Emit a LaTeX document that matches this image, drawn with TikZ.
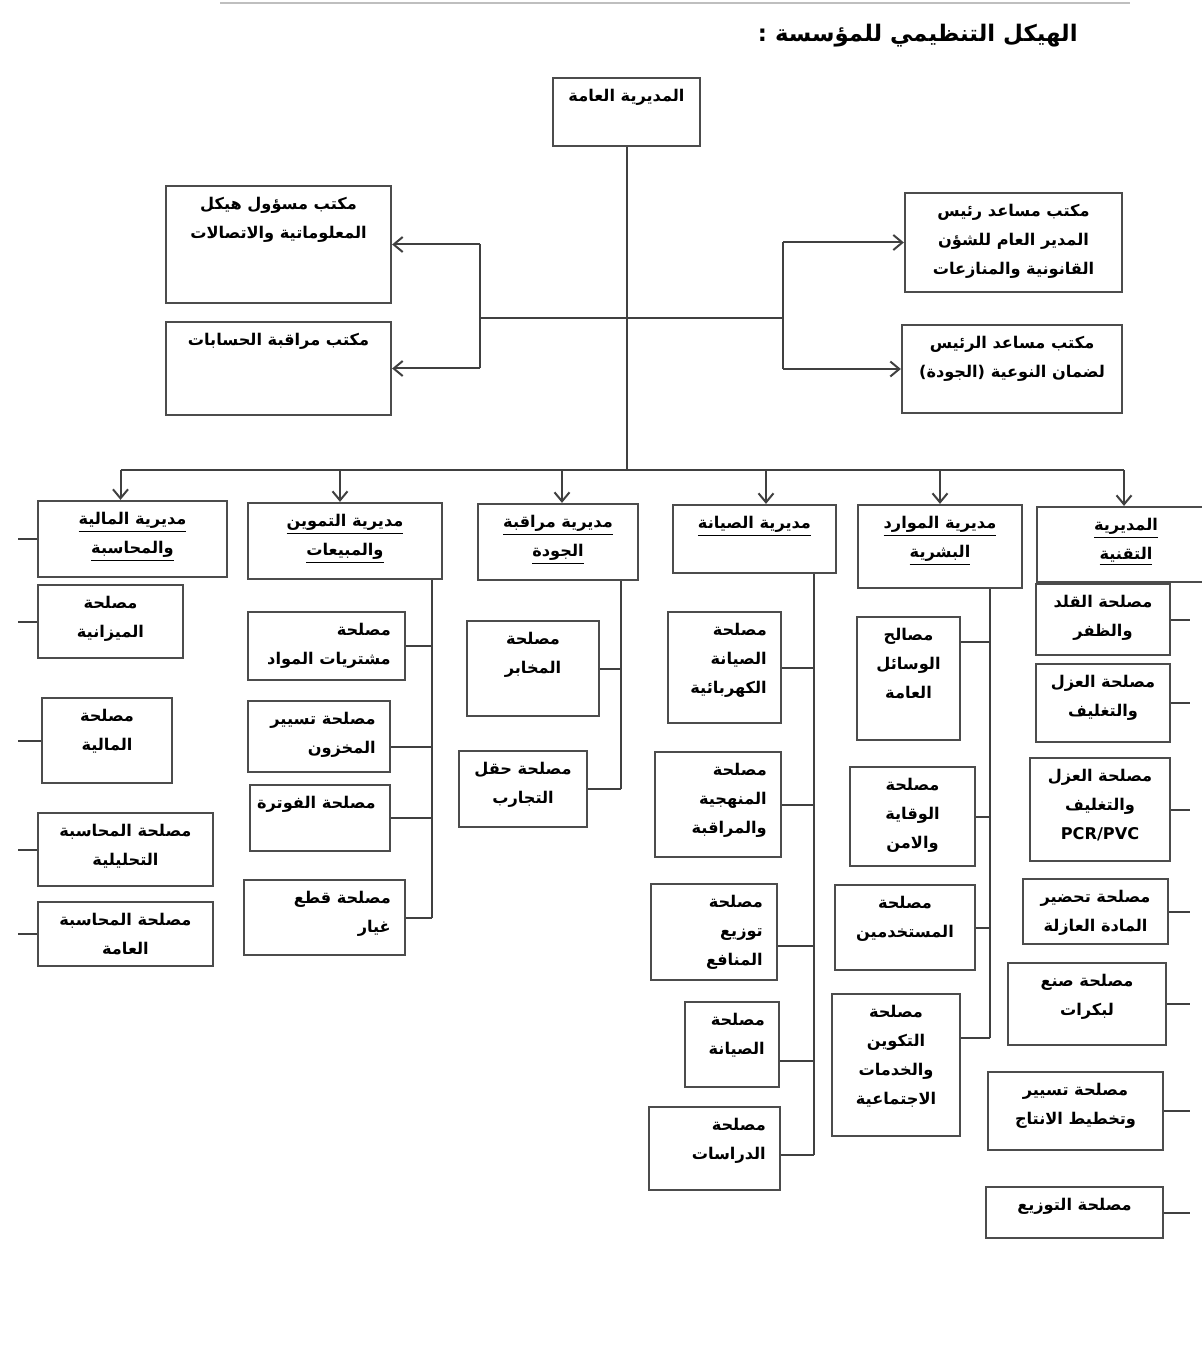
\documentclass[tikz,border=0pt]{standalone}
\usepackage{fontspec}
\setmainfont{DejaVu Sans}
\newfontfamily\arabicfont[Script=Arabic]{DejaVu Sans}
\TeXXeTstate=1
\usetikzlibrary{arrows.meta}
\newcommand{\ar}[1]{{\arabicfont\bfseries\beginR #1\endR}}
\newcommand{\arul}[1]{\underline{\ar{#1}}}
% box from (x1,y1) to (x2,y2), label at its top
\newcommand{\orgbox}[7][north]{%
  \node[box,minimum width={(#5-#3)*0.2mm},minimum height={(#6-#4)*0.2mm}]
    (#2) at ({(#3+#5)/2},{(#4+#6)/2}) {};
  \node[lbl,lbl #1] (#2-t) at (#2.#1) {#7};}
\tikzset{
  box/.style={draw=black!70,line width=0.45mm,fill=white,inner sep=0pt},
  lbl/.style={inner sep=0pt,align=center,font=\fontsize{9.2}{16.5}\selectfont},
  lbl north/.style={anchor=north,yshift=-2.4mm},
  lbl north east/.style={anchor=north east,yshift=-2.4mm,xshift=-3mm,align=right},
  link/.style={draw=black!75,line width=0.4mm},
  title/.style={inner sep=0pt,font=\fontsize{13}{18}\selectfont}
}
\begin{document}
\begin{tikzpicture}[x=0.2mm,y=-0.2mm,>={Straight Barb[length=1.8mm,width=3mm]}]
  \useasboundingbox (0,0) rectangle (1201,1359);
  \draw[black!25,line width=0.4mm] (220,3) -- (1130,3);
  \node[title,anchor=east] (title) at (1078,36) {\ar{الهيكل التنظيمي للمؤسسة :}};

  % general direction and offices
  \orgbox{gm}{553}{78}{700}{146}{\ar{المديرية العامة}}
  \orgbox{ofA}{166}{186}{391}{303}{\ar{مكتب مسؤول هيكل}\\\ar{المعلوماتية والاتصالات}}
  \orgbox{ofB}{166}{322}{391}{415}{\ar{مكتب مراقبة الحسابات}}
  \orgbox{ofC}{905}{193}{1122}{292}{\ar{مكتب مساعد رئيس}\\\ar{المدير العام للشؤن}\\\ar{القانونية والمنازعات}}
  \orgbox{ofD}{902}{325}{1122}{413}{\ar{مكتب مساعد الرئيس}\\\ar{لضمان النوعية (الجودة)}}

  % directorates
  \orgbox{dFin}{38}{501}{227}{577}{\arul{مديرية المالية}\\\arul{والمحاسبة}}
  \orgbox{dSup}{248}{503}{442}{579}{\arul{مديرية التموين}\\\arul{والمبيعات}}
  \orgbox{dQua}{478}{504}{638}{580}{\arul{مديرية مراقبة}\\\arul{الجودة}}
  \orgbox{dMnt}{673}{505}{836}{573}{\arul{مديرية الصيانة}}
  \orgbox{dHR}{858}{505}{1022}{588}{\arul{مديرية الموارد}\\\arul{البشرية}}
  \orgbox{dTec}{1037}{507}{1215}{582}{\arul{المديرية}\\\arul{التقنية}}

  % finance
  \orgbox{sBud}{38}{585}{183}{658}{\ar{مصلحة}\\\ar{الميزانية}}
  \orgbox{sFin}{42}{698}{172}{783}{\ar{مصلحة}\\\ar{المالية}}
  \orgbox{sAna}{38}{813}{213}{886}{\ar{مصلحة المحاسبة}\\\ar{التحليلية}}
  \orgbox{sGen}{38}{902}{213}{966}{\ar{مصلحة المحاسبة}\\\ar{العامة}}

  % supply and sales
  \orgbox[north east]{sPur}{248}{612}{405}{680}{\ar{مصلحة}\\\ar{مشتريات المواد}}
  \orgbox[north east]{sStk}{248}{701}{390}{772}{\ar{مصلحة تسيير}\\\ar{المخزون}}
  \orgbox[north east]{sBil}{250}{785}{390}{851}{\ar{مصلحة الفوترة}}
  \orgbox[north east]{sSpr}{244}{880}{405}{955}{\ar{مصلحة قطع}\\\ar{غيار}}

  % quality
  \orgbox{sLab}{467}{621}{599}{716}{\ar{مصلحة}\\\ar{المخابر}}
  \orgbox{sTst}{459}{751}{587}{827}{\ar{مصلحة حقل}\\\ar{التجارب}}

  % maintenance
  \orgbox[north east]{sElc}{668}{612}{781}{723}{\ar{مصلحة}\\\ar{الصيانة}\\\ar{الكهربائية}}
  \orgbox[north east]{sMet}{655}{752}{781}{857}{\ar{مصلحة}\\\ar{المنهجية}\\\ar{والمراقبة}}
  \orgbox[north east]{sUtl}{651}{884}{777}{980}{\ar{مصلحة}\\\ar{توزيع}\\\ar{المنافع}}
  \orgbox[north east]{sMnt}{685}{1002}{779}{1087}{\ar{مصلحة}\\\ar{الصيانة}}
  \orgbox[north east]{sStu}{649}{1107}{780}{1190}{\ar{مصلحة}\\\ar{الدراسات}}

  % human resources
  \orgbox{sGnr}{857}{617}{960}{740}{\ar{مصالح}\\\ar{الوسائل}\\\ar{العامة}}
  \orgbox{sSaf}{850}{767}{975}{866}{\ar{مصلحة}\\\ar{الوقاية}\\\ar{والامن}}
  \orgbox{sPer}{835}{885}{975}{970}{\ar{مصلحة}\\\ar{المستخدمين}}
  \orgbox{sTrn}{832}{994}{960}{1136}{\ar{مصلحة}\\\ar{التكوين}\\\ar{والخدمات}\\\ar{الاجتماعية}}

  % technical
  \orgbox{sDrw}{1036}{584}{1170}{655}{\ar{مصلحة القلد}\\\ar{والظفر}}
  \orgbox{sIns}{1036}{664}{1170}{742}{\ar{مصلحة العزل}\\\ar{والتغليف}}
  \orgbox{sPvc}{1030}{758}{1170}{861}{\ar{مصلحة العزل}\\\ar{والتغليف}\\{\bfseries PCR/PVC}}
  \orgbox{sPrp}{1023}{879}{1168}{944}{\ar{مصلحة تحضير}\\\ar{المادة العازلة}}
  \orgbox{sRel}{1008}{963}{1166}{1045}{\ar{مصلحة صنع}\\\ar{لبكرات}}
  \orgbox{sPln}{988}{1072}{1163}{1150}{\ar{مصلحة تسيير}\\\ar{وتخطيط الانتاج}}
  \orgbox{sDst}{986}{1187}{1163}{1238}{\ar{مصلحة التوزيع}}

  % connectors
  \coordinate (bus) at (626,470);
  \coordinate (lx) at (480,318);
  \coordinate (rx) at (783,318);
  \coordinate (edgeL) at (18,0);
  \coordinate (edgeR) at (1190,0);
  \coordinate (c2) at (432,0);
  \coordinate (c3) at (621,0);
  \coordinate (c4) at (814,0);
  \coordinate (c5) at (990,0);

  \draw[link] (gm.south) -- (gm.south |- bus);
  \draw[link] (lx) -- (rx);
  \draw[link] (ofA.east -| lx) -- (ofB.east -| lx);
  \draw[link] (ofC.west -| rx) -- (ofD.west -| rx);
  \draw[link,->] (ofA.east -| lx) -- (ofA.east);
  \draw[link,->] (ofB.east -| lx) -- (ofB.east);
  \draw[link,->] (ofC.west -| rx) -- (ofC.west);
  \draw[link,->] (ofD.west -| rx) -- (ofD.west);

  \draw[link] ([xshift=-2.4mm]dFin.north |- bus) -- ([xshift=-0.4mm]dTec.north |- bus);
  \foreach \d/\dx in {dFin/-2.4,dSup/-1,dQua/0.8,dMnt/2.3,dHR/0,dTec/-0.4}
    \draw[link,->] ([xshift=\dx mm]\d.north |- bus) -- ([xshift=\dx mm]\d.north);

  \foreach \s in {dFin,sBud,sFin,sAna,sGen}
    \draw[link] (\s.west -| edgeL) -- (\s.west);

  \draw[link] (dSup.south -| c2) -- (sSpr.east -| c2);
  \foreach \s in {sPur,sBil,sSpr}
    \draw[link] (\s.east) -- (\s.east -| c2);
  \draw[link] ([yshift=-2mm]sStk.east) -- ([yshift=-2mm]sStk.east -| c2);

  \draw[link] (dQua.south -| c3) -- (sTst.east -| c3);
  \foreach \s in {sLab,sTst}
    \draw[link] (\s.east) -- (\s.east -| c3);

  \draw[link] (dMnt.south -| c4) -- ([yshift=-1.3mm]sStu.east -| c4);
  \foreach \s in {sElc,sMet}
    \draw[link] (\s.east) -- (\s.east -| c4);
  \draw[link] ([yshift=-2.8mm]sUtl.east) -- ([yshift=-2.8mm]sUtl.east -| c4);
  \draw[link] ([yshift=-3.2mm]sMnt.east) -- ([yshift=-3.2mm]sMnt.east -| c4);
  \draw[link] ([yshift=-1.3mm]sStu.east) -- ([yshift=-1.3mm]sStu.east -| c4);

  \draw[link] (dHR.south -| c5) -- ([yshift=5.4mm]sTrn.east -| c5);
  \draw[link] ([yshift=7.4mm]sGnr.east) -- ([yshift=7.4mm]sGnr.east -| c5);
  \foreach \s in {sSaf,sPer}
    \draw[link] (\s.east) -- (\s.east -| c5);
  \draw[link] ([yshift=5.4mm]sTrn.east) -- ([yshift=5.4mm]sTrn.east -| c5);

  \foreach \s in {sDrw,sIns,sPvc,sPrp,sRel,sPln,sDst}
    \draw[link] (\s.east) -- (\s.east -| edgeR);
\end{tikzpicture}
\end{document}
